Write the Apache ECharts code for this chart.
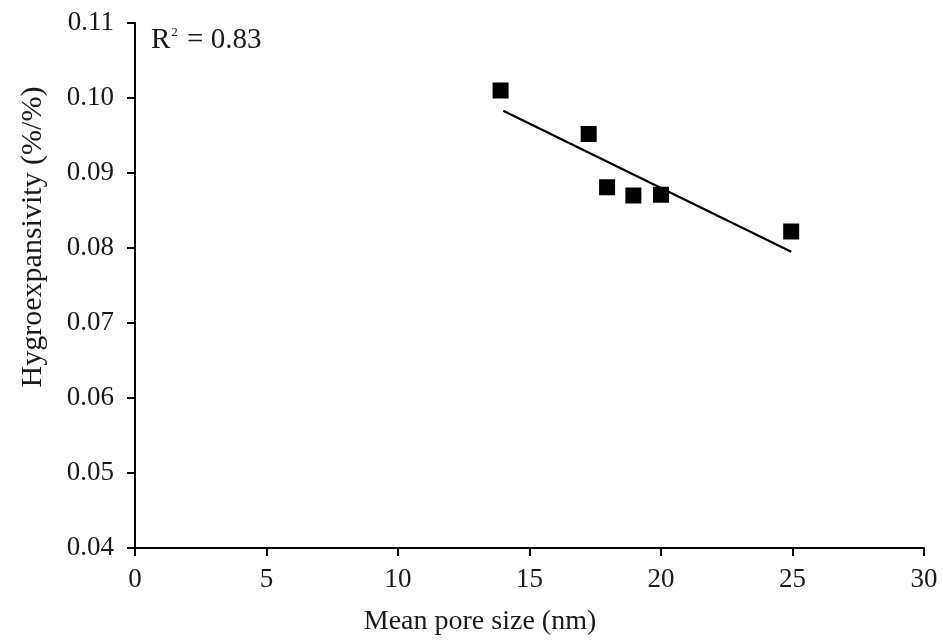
<!DOCTYPE html>
<html>
<head>
<meta charset="utf-8">
<script src="https://cdn.jsdelivr.net/npm/echarts@6/dist/echarts.min.js"></script>
<style>
  html, body { margin: 0; padding: 0; background: #fff; }
  #chart { width: 943px; height: 643px; }
</style>
</head>
<body>
<div id="chart"></div>
<script>
// Mean pore size (nm) against hygroexpansivity (%/%)
const poreSize = [13.9, 17.25, 17.95, 18.95, 20.0, 24.95];
const hygroexpansivity = [0.1010, 0.0952, 0.0881, 0.0870, 0.0871, 0.0822];
// Linear fit end points
const fitX = [14.0, 24.95];
const fitY = [0.0983, 0.0795];
const rSquared = '0.83';
const xTitle = 'Mean pore size (nm)';
const yTitle = 'Hygroexpansivity (%/%)';

const xTicks = { min: 0, max: 30, interval: 5 };
const yTicks = { min: 0.04, max: 0.11, interval: 0.01 };

const font = 'Liberation Serif';
const ink = '#1a1a1a';
const labelSize = 27;

const chart = echarts.init(document.getElementById('chart'), null, { renderer: 'canvas' });

chart.setOption({
  animation: false,
  backgroundColor: '#fff',
  grid: { left: 135, right: 19, top: 23, bottom: 95, containLabel: false },
  xAxis: {
    type: 'value',
    min: xTicks.min, max: xTicks.max, interval: xTicks.interval,
    axisLine: { onZero: false, lineStyle: { color: '#000', width: 2 } },
    axisTick: { length: 8, lineStyle: { color: '#000', width: 2 } },
    axisLabel: { fontFamily: font, fontSize: labelSize, color: ink, margin: 18 },
    splitLine: { show: false }
  },
  yAxis: {
    type: 'value',
    min: yTicks.min, max: yTicks.max, interval: yTicks.interval,
    axisLine: { onZero: false, lineStyle: { color: '#000', width: 2 } },
    axisTick: { length: 8, lineStyle: { color: '#000', width: 2 } },
    axisLabel: {
      fontFamily: font, fontSize: labelSize, color: ink, margin: 21,
      formatter: v => v.toFixed(2)
    },
    splitLine: { show: false }
  },
  series: [
    {
      type: 'line',
      data: fitX.map((x, i) => [x, fitY[i]]),
      showSymbol: false,
      lineStyle: { color: '#000', width: 2.2 },
      z: 2
    },
    {
      type: 'scatter',
      data: poreSize.map((x, i) => [x, hygroexpansivity[i]]),
      symbol: 'rect',
      symbolSize: 16,
      itemStyle: { color: '#000', opacity: 1 },
      z: 3
    }
  ],
  graphic: [
    {
      type: 'text',
      x: 480, y: 622,
      style: {
        text: xTitle, fontFamily: font, fontSize: 28, fill: ink,
        align: 'center', verticalAlign: 'middle'
      }
    },
    {
      type: 'text',
      x: 33, y: 237,
      rotation: Math.PI / 2,
      style: {
        text: yTitle, fontFamily: font, fontSize: 30, fill: ink,
        align: 'center', verticalAlign: 'middle'
      }
    },
    {
      type: 'text',
      left: 151,
      top: 26,
      style: {
        text: '{r|R}{sup|2}{r| = ' + rSquared + '}',
        rich: {
          r: { fontFamily: font, fontSize: 29, fill: ink },
          sup: { fontFamily: font, fontSize: 13, fill: ink, verticalAlign: 'top', padding: [0, 2, 15, 1] }
        }
      }
    }
  ]
});
</script>
</body>
</html>
